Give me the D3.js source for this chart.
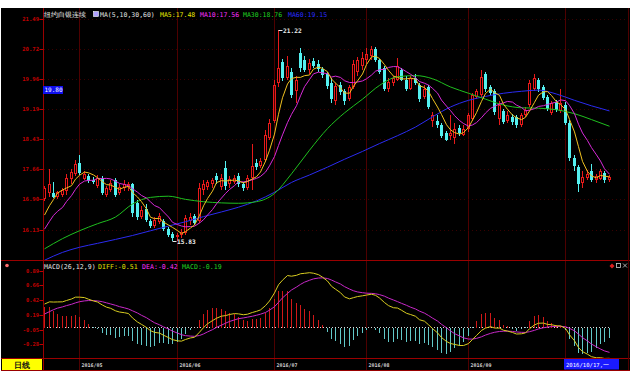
<!DOCTYPE html>
<html>
<head>
<meta charset="utf-8">
<script src="https://cdn.jsdelivr.net/npm/d3@7/dist/d3.min.js"></script>
<style>
body { margin: 0; background: #fff; }
svg { display: block; }
text { font-family: "DejaVu Sans Mono", "Liberation Mono", monospace; }
</style>
</head>
<body>
<div id="chart"></div>
<script>
// trading sessions shown on the chart
var dates = [
  "2016-04-20","2016-04-21","2016-04-22","2016-04-25","2016-04-26","2016-04-27","2016-04-28","2016-04-29",
  "2016-05-02","2016-05-03","2016-05-04","2016-05-05","2016-05-06","2016-05-09","2016-05-10","2016-05-11","2016-05-12","2016-05-13",
  "2016-05-16","2016-05-17","2016-05-18","2016-05-19","2016-05-20","2016-05-23","2016-05-24","2016-05-25","2016-05-26","2016-05-27","2016-05-30","2016-05-31",
  "2016-06-01","2016-06-02","2016-06-03","2016-06-06","2016-06-07","2016-06-08","2016-06-09","2016-06-10","2016-06-13","2016-06-14","2016-06-15",
  "2016-06-16","2016-06-17","2016-06-20","2016-06-21","2016-06-22","2016-06-23","2016-06-24","2016-06-27","2016-06-28","2016-06-29","2016-06-30",
  "2016-07-01","2016-07-04","2016-07-05","2016-07-06","2016-07-07","2016-07-08","2016-07-11","2016-07-12","2016-07-13","2016-07-14","2016-07-15",
  "2016-07-18","2016-07-19","2016-07-20","2016-07-21","2016-07-22","2016-07-25","2016-07-26","2016-07-27","2016-07-28","2016-07-29",
  "2016-08-01","2016-08-02","2016-08-03","2016-08-04","2016-08-05","2016-08-08","2016-08-09","2016-08-10","2016-08-11","2016-08-12",
  "2016-08-15","2016-08-16","2016-08-17","2016-08-18","2016-08-19","2016-08-22","2016-08-23","2016-08-24","2016-08-25","2016-08-26","2016-08-29","2016-08-30","2016-08-31",
  "2016-09-01","2016-09-02","2016-09-05","2016-09-06","2016-09-07","2016-09-08","2016-09-09","2016-09-12","2016-09-13","2016-09-14","2016-09-15",
  "2016-09-16","2016-09-19","2016-09-20","2016-09-21","2016-09-22","2016-09-23","2016-09-26","2016-09-27","2016-09-28","2016-09-29","2016-09-30",
  "2016-10-03","2016-10-04","2016-10-05","2016-10-06","2016-10-07","2016-10-10","2016-10-11","2016-10-12","2016-10-13","2016-10-14","2016-10-17"
];

var opens = [
  16.90,17.05,17.05,16.95,17.02,17.10,17.42,17.55,17.82,17.42,
  17.50,17.40,17.25,17.45,17.00,17.15,17.40,17.05,17.18,17.22,
  17.28,16.80,16.45,16.65,16.35,16.22,16.32,16.35,16.15,16.02,
  15.95,15.98,16.05,16.35,16.48,16.35,17.15,17.22,17.28,17.50,
  17.22,17.70,17.28,17.35,17.50,17.30,17.20,17.45,17.82,17.75,
  17.90,18.45,18.90,19.85,20.40,20.00,20.15,19.65,20.62,20.45,
  20.20,20.42,20.35,20.22,20.08,19.85,19.40,19.80,19.65,19.45,
  19.75,20.15,20.30,20.45,20.55,20.72,20.45,20.25,19.70,19.85,
  19.95,20.20,19.95,19.72,20.00,19.82,19.50,19.75,18.90,18.90,
  18.80,18.58,18.50,18.45,18.72,18.55,18.70,18.95,19.50,19.55,
  20.10,19.75,19.65,18.95,19.15,18.90,19.00,19.00,18.80,19.05,
  19.30,19.70,19.95,19.75,19.50,19.10,19.38,19.15,19.30,18.85,
  17.95,17.72,17.32,17.45,17.62,17.38,17.42,17.58,17.38
];
var highs = [
  17.25,17.68,17.35,17.12,17.20,17.55,17.68,17.90,18.03,17.62,
  17.55,17.48,17.52,17.50,17.25,17.38,17.45,17.30,17.38,17.35,
  17.32,16.88,16.72,16.78,16.40,16.45,16.55,16.40,16.20,16.08,
  16.05,16.15,16.50,16.55,16.52,17.32,17.38,17.40,17.45,17.58,
  17.55,17.88,17.50,17.52,17.58,17.35,17.52,18.30,17.92,17.95,
  18.66,18.95,19.95,21.22,20.48,20.55,20.25,20.05,20.75,20.55,
  20.48,20.50,20.45,20.28,20.15,19.98,19.85,19.88,19.70,19.82,
  20.45,20.52,20.65,20.75,20.80,20.78,20.48,20.30,19.98,20.05,
  20.50,20.25,20.05,20.05,20.10,19.86,19.80,19.80,19.12,19.05,
  18.85,18.65,19.05,18.85,18.80,18.78,19.10,19.60,19.72,20.19,
  20.15,19.80,19.70,19.40,19.20,19.15,19.08,19.05,19.10,19.25,
  19.95,20.10,20.00,19.80,19.55,19.40,19.42,19.70,19.38,18.92,
  18.02,17.78,17.62,17.65,17.80,17.55,17.68,17.62,17.52
];
var lows = [
  16.85,16.97,16.93,16.90,16.95,17.02,17.30,17.50,17.52,17.38,
  17.32,17.28,17.20,17.00,16.95,17.08,16.95,17.02,17.12,17.10,
  16.45,16.37,16.40,16.33,16.18,16.18,16.28,16.10,15.95,15.83,
  15.85,15.92,16.00,16.25,16.25,16.30,17.00,17.15,17.20,17.30,
  17.15,17.15,17.20,17.28,17.22,17.12,17.15,17.15,17.65,17.70,
  17.85,18.40,18.85,19.75,19.92,19.95,19.48,19.35,20.15,20.15,
  20.10,20.25,20.15,20.00,19.72,19.35,19.30,19.55,19.30,19.40,
  19.70,20.05,20.20,20.35,20.45,20.40,20.10,19.65,19.62,19.78,
  19.90,19.90,19.65,19.68,19.80,19.38,19.45,19.20,18.75,18.72,
  18.45,18.38,18.42,18.32,18.52,18.50,18.62,18.90,19.45,19.50,
  19.62,19.55,19.05,18.80,18.82,18.85,18.80,18.72,18.75,19.00,
  19.25,19.65,19.62,19.42,19.15,19.05,19.12,19.10,18.78,17.88,
  17.62,17.08,17.20,17.40,17.35,17.32,17.38,17.32,17.35
];
var closes = [
  17.20,17.30,16.97,17.08,17.14,17.45,17.60,17.80,17.57,17.55,
  17.36,17.33,17.45,17.05,17.18,17.32,17.02,17.22,17.30,17.28,
  16.55,16.45,16.62,16.38,16.22,16.38,16.48,16.15,16.00,15.92,
  15.98,16.08,16.42,16.45,16.30,17.20,17.30,17.35,17.40,17.38,
  17.45,17.25,17.42,17.45,17.28,17.18,17.45,17.75,17.72,17.88,
  18.55,18.85,19.80,20.25,19.98,20.30,19.55,19.95,20.24,20.20,
  20.38,20.30,20.22,20.06,19.78,19.45,19.78,19.62,19.40,19.75,
  20.35,20.45,20.50,20.60,20.72,20.45,20.15,19.72,19.88,19.98,
  20.30,19.95,19.72,19.98,19.85,19.45,19.72,19.25,19.05,18.78,
  18.50,18.42,18.60,18.70,18.58,18.70,19.05,19.55,19.65,20.02,
  19.70,19.60,19.12,19.30,18.88,19.05,18.88,18.78,19.05,19.18,
  19.85,19.98,19.70,19.48,19.20,19.35,19.18,19.35,18.85,17.95,
  17.75,17.30,17.48,17.55,17.40,17.50,17.62,17.38,17.46
];

// closes of the nine sessions before the first bar (feed MA5 / MA10)
var leadCloses = [15.30, 15.45, 16.05, 16.15, 15.95, 16.10, 16.20, 16.25, 16.75];

var ma30 = [15.64,15.90,16.10,16.28,16.45,16.78,16.95,16.98,16.90,16.84,16.81,16.80,16.84,17.05,17.55,18.15,18.70,
            19.10,19.45,19.80,20.02,20.05,19.97,19.76,19.60,19.45,19.30,19.23,19.22,19.18,19.08,18.93,18.76];
var ma60 = [15.35,15.55,15.68,15.78,15.88,15.98,16.10,16.22,16.33,16.46,16.58,16.70,16.86,17.08,17.33,17.52,17.72,
            17.92,18.12,18.32,18.52,18.74,19.00,19.25,19.42,19.52,19.60,19.65,19.68,19.58,19.42,19.28,19.15];

// EMA12, EMA26, DEA just before the first bar
var macdStart = [16.40, 16.08, 0.16];

var priceTicks = [21.49, 20.72, 19.96, 19.19, 18.43, 17.66, 16.90, 16.13];
var macdTicks = [0.89, 0.66, 0.42, 0.19, -0.05, -0.28];
var monthLabels = ["2016/05", "2016/06", "2016/07", "2016/08", "2016/09"];

var width = 630, height = 382;
var svg = d3.select("#chart").append("svg")
    .attr("width", width)
    .attr("height", height);

svg.append("rect").attr("width", width).attr("height", height).attr("fill", "#fff");
svg.append("rect").attr("x", 1).attr("y", 8).attr("width", 629).attr("height", 363).attr("fill", "#000");

var x = d3.scaleBand().domain(dates).range([42.5, 611.5]);
function cx(d) { return Math.floor(x(d) + x.bandwidth() / 2) + 0.5; }

var y = d3.scaleLinear().domain([16.13, 21.49]).range([229.6, 19]);
var ym = d3.scaleLinear().domain([-0.28, 0.89]).range([344, 271]);

var defs = svg.append("defs");
defs.append("clipPath").attr("id", "clipMain")
    .append("rect").attr("x", 44).attr("y", 18).attr("width", 584).attr("height", 242);
defs.append("clipPath").attr("id", "clipMacd")
    .append("rect").attr("x", 44).attr("y", 270).attr("width", 584).attr("height", 88);

// month grid lines
var monthStarts = dates.filter(function (d, i) {
    return i > 0 && d.slice(5, 7) != dates[i - 1].slice(5, 7);
});
svg.append("g").selectAll("line")
    .data(monthStarts)
    .enter().append("line")
    .attr("x1", cx).attr("x2", cx)
    .attr("y1", 8).attr("y2", 370)
    .attr("stroke", "#4e0000")
    .attr("shape-rendering", "crispEdges");

// faint price grid
svg.append("g").selectAll("line")
    .data(priceTicks)
    .enter().append("line")
    .attr("x1", 44).attr("x2", 628)
    .attr("y1", function (d) { return Math.round(y(d)) + 0.5; })
    .attr("y2", function (d) { return Math.round(y(d)) + 0.5; })
    .attr("stroke", "#3a0000")
    .attr("stroke-dasharray", "1,3")
    .attr("shape-rendering", "crispEdges");

// frame lines
var frame = svg.append("g").attr("stroke", "#9a0000").attr("shape-rendering", "crispEdges");
frame.append("line").attr("x1", 43.5).attr("x2", 43.5).attr("y1", 8).attr("y2", 370);
frame.append("line").attr("x1", 1).attr("x2", 630).attr("y1", 260.5).attr("y2", 260.5);
frame.append("line").attr("x1", 1).attr("x2", 630).attr("y1", 358.5).attr("y2", 358.5);
frame.append("line").attr("x1", 1).attr("x2", 630).attr("y1", 370.5).attr("y2", 370.5);
frame.append("line").attr("x1", 628.5).attr("x2", 628.5).attr("y1", 8).attr("y2", 370).attr("stroke", "#4e0000");

// price axis labels
var pAxis = svg.append("g");
pAxis.selectAll("text")
    .data(priceTicks)
    .enter().append("text")
    .attr("x", 39).attr("y", function (d) { return y(d) + 2; })
    .attr("text-anchor", "end")
    .attr("font-size", 5.6)
    .attr("font-weight", "bold")
    .attr("fill", "#c00000")
    .text(function (d) { return d.toFixed(2); });
pAxis.selectAll("line")
    .data(priceTicks)
    .enter().append("line")
    .attr("x1", 39.5).attr("x2", 43)
    .attr("y1", function (d) { return Math.round(y(d)) + 0.5; })
    .attr("y2", function (d) { return Math.round(y(d)) + 0.5; })
    .attr("stroke", "#c00000");

// title row
var title = svg.append("g").attr("font-size", 6.5);
title.append("text").attr("x", 44).attr("y", 17).attr("fill", "#e8e8e8")
    .attr("font-family", "Noto Sans CJK SC").text("纽约白银连续");
title.append("rect").attr("x", 93.5).attr("y", 11.5).attr("width", 5).attr("height", 5)
    .attr("fill", "#b0a0ff").attr("stroke", "#fff").attr("stroke-width", 0.6);
title.append("text").attr("x", 100).attr("y", 17).attr("fill", "#e0e0e0").text("MA(5,10,30,60)");
title.append("text").attr("x", 160).attr("y", 17).attr("fill", "#e8e800").text("MA5:17.48");
title.append("text").attr("x", 200).attr("y", 17).attr("fill", "#ff30ff").text("MA10:17.56");
title.append("text").attr("x", 243).attr("y", 17).attr("fill", "#20d020").text("MA30:18.76");
title.append("text").attr("x", 288).attr("y", 17).attr("fill", "#2a2aff").text("MA60:19.15");

// candles
var main = svg.append("g").attr("clip-path", "url(#clipMain)");
var candle = main.selectAll(".candle")
    .data(dates)
    .enter().append("g")
    .attr("class", "candle")
    .attr("shape-rendering", "crispEdges");

candle.each(function (d, i) {
    var g = d3.select(this),
        c = cx(d),
        up = closes[i] >= opens[i],
        top = Math.round(y(Math.max(opens[i], closes[i]))),
        bot = Math.round(y(Math.min(opens[i], closes[i]))),
        hi = Math.round(y(highs[i])),
        lo = Math.round(y(lows[i]));
    if (bot - top < 1) bot = top + 1;
    if (up) {
        g.append("line").attr("x1", c).attr("x2", c).attr("y1", hi).attr("y2", top)
            .attr("stroke", "#e81a1a");
        g.append("line").attr("x1", c).attr("x2", c).attr("y1", bot).attr("y2", lo)
            .attr("stroke", "#e81a1a");
        g.append("rect").attr("x", c - 1).attr("y", top + 0.5)
            .attr("width", 2).attr("height", Math.max(bot - top - 1, 0.5))
            .attr("fill", "none").attr("stroke", "#e81a1a");
    } else {
        g.append("line").attr("x1", c).attr("x2", c).attr("y1", hi).attr("y2", lo)
            .attr("stroke", "#54f0f0");
        g.append("rect").attr("x", c - 1.5).attr("y", top)
            .attr("width", 3).attr("height", bot - top)
            .attr("fill", "#54f0f0");
    }
});

// moving averages
var allCloses = leadCloses.concat(closes);
function sma(n) {
    return closes.map(function (c, i) {
        var end = i + leadCloses.length + 1;
        return d3.mean(allCloses.slice(Math.max(0, end - n), end));
    });
}
var ma5 = sma(5), ma10 = sma(10);

var lineAll = d3.line()
    .x(function (d, i) { return cx(dates[i]); })
    .y(function (d) { return y(d); });
var lineSampled = d3.line()
    .x(function (d, i) { return cx(dates[i * 4]); })
    .y(function (d) { return y(d); })
    .curve(d3.curveMonotoneX);

main.append("path").attr("d", lineSampled(ma60)).attr("fill", "none").attr("stroke", "#2b2bf0");
main.append("path").attr("d", lineSampled(ma30)).attr("fill", "none").attr("stroke", "#1fbf1f");
main.append("path").attr("d", lineAll(ma10)).attr("fill", "none").attr("stroke", "#d82ad8");
main.append("path").attr("d", lineAll(ma5)).attr("fill", "none").attr("stroke", "#f0c020");

// high / low marks
var iHi = d3.maxIndex(highs), iLo = d3.minIndex(lows);
function extremeMark(i, v, dy) {
    var c = cx(dates[i]), yy = Math.round(y(v)) + 0.5;
    svg.append("line").attr("x1", c).attr("x2", c + 4).attr("y1", yy).attr("y2", yy)
        .attr("stroke", "#e8e8e8");
    svg.append("text").attr("x", c + 4.5).attr("y", yy + dy)
        .attr("font-size", 6.2).attr("font-weight", "bold").attr("fill", "#ececec")
        .text(v.toFixed(2));
}
extremeMark(iHi, highs[iHi], 2.2);
extremeMark(iLo, lows[iLo], 2.2);

// crosshair price tag
svg.append("rect").attr("x", 43).attr("y", 86).attr("width", 20).attr("height", 8).attr("fill", "#1010f0");
svg.append("text").attr("x", 44.5).attr("y", 92.3).attr("font-size", 6).attr("fill", "#fff").text("19.80");

// MACD (26,12,9) from closes
var ema12 = macdStart[0], ema26 = macdStart[1], dea = macdStart[2];
var diffs = [], deas = [], hist = [];
closes.forEach(function (c) {
    ema12 = ema12 * 11 / 13 + c * 2 / 13;
    ema26 = ema26 * 25 / 27 + c * 2 / 27;
    var diff = ema12 - ema26;
    dea = dea * 0.8 + diff * 0.2;
    diffs.push(diff);
    deas.push(dea);
    hist.push(2 * (diff - dea));
});

var macd = svg.append("g").attr("clip-path", "url(#clipMacd)");
macd.append("line").attr("x1", 44).attr("x2", 611)
    .attr("y1", Math.round(ym(0)) + 0.5).attr("y2", Math.round(ym(0)) + 0.5)
    .attr("stroke", "#d8d8d8").attr("stroke-dasharray", "1,2");
macd.selectAll(".bar")
    .data(hist)
    .enter().append("line")
    .attr("class", "bar")
    .attr("x1", function (d, i) { return cx(dates[i]); })
    .attr("x2", function (d, i) { return cx(dates[i]); })
    .attr("y1", Math.round(ym(0)) + 1)
    .attr("y2", function (d) { return ym(d); })
    .attr("stroke", function (d) { return d >= 0 ? "#d01818" : "#62c8c8"; })
    .attr("shape-rendering", "crispEdges");
macd.append("path").attr("d", lineAll.y(function (d) { return ym(d); })(deas))
    .attr("fill", "none").attr("stroke", "#c828c8");
macd.append("path").attr("d", lineAll(diffs))
    .attr("fill", "none").attr("stroke", "#d8cc20");

var mAxis = svg.append("g");
mAxis.selectAll("text")
    .data(macdTicks)
    .enter().append("text")
    .attr("x", 39).attr("y", function (d) { return ym(d) + 2; })
    .attr("text-anchor", "end")
    .attr("font-size", 5.4)
    .attr("font-weight", "bold")
    .attr("fill", "#c00000")
    .text(function (d) { return d.toFixed(2); });
mAxis.selectAll("line")
    .data(macdTicks)
    .enter().append("line")
    .attr("x1", 39.5).attr("x2", 43)
    .attr("y1", function (d) { return Math.round(ym(d)) + 0.5; })
    .attr("y2", function (d) { return Math.round(ym(d)) + 0.5; })
    .attr("stroke", "#c00000");

var mHead = svg.append("g").attr("font-size", 6.6);
mHead.append("text").attr("x", 44).attr("y", 268.5).attr("fill", "#e0e0e0").text("MACD(26,12,9)");
mHead.append("text").attr("x", 98).attr("y", 268.5).attr("fill", "#e0e000").text("DIFF:-0.51");
mHead.append("text").attr("x", 142).attr("y", 268.5).attr("fill", "#ff30ff").text("DEA:-0.42");
mHead.append("text").attr("x", 182).attr("y", 268.5).attr("fill", "#20d020").text("MACD:-0.19");

// panel icons
svg.append("circle").attr("cx", 7).attr("cy", 265.5).attr("r", 1.8).attr("fill", "#ff7070");
svg.append("path").attr("d", "M612,263.5 L614.5,266 L612,268.5 L609.5,266 Z").attr("fill", "#e02020");
svg.append("rect").attr("x", 616.5).attr("y", 263.5).attr("width", 4).attr("height", 4)
    .attr("fill", "none").attr("stroke", "#d0d0d0").attr("stroke-width", 0.8);
svg.append("path").attr("d", "M623,263.5 L627,267.5 M627,263.5 L623,267.5")
    .attr("stroke", "#d0d0d0").attr("stroke-width", 0.8);

// date row
svg.append("g").selectAll("text")
    .data(monthLabels)
    .enter().append("text")
    .attr("x", function (d, i) { return cx(monthStarts[i]) + 2; })
    .attr("y", 366.5)
    .attr("font-size", 5)
    .attr("font-weight", "bold")
    .attr("fill", "#cfcfcf")
    .text(function (d) { return d; });

svg.append("rect").attr("x", 2).attr("y", 359).attr("width", 40).attr("height", 11).attr("fill", "#ffff00");
svg.append("text").attr("x", 22).attr("y", 367.5).attr("text-anchor", "middle")
    .attr("font-family", "Noto Sans CJK SC").attr("font-size", 7.5).attr("font-weight", "bold")
    .attr("fill", "#101010").text("日线");

svg.append("rect").attr("x", 564).attr("y", 359).attr("width", 55).attr("height", 10.5).attr("fill", "#1a1aff");
svg.append("text").attr("x", 566).attr("y", 366.8)
    .attr("font-size", 5.6).attr("fill", "#ffffff")
    .text("2016/10/17,一");
</script>
</body>
</html>
